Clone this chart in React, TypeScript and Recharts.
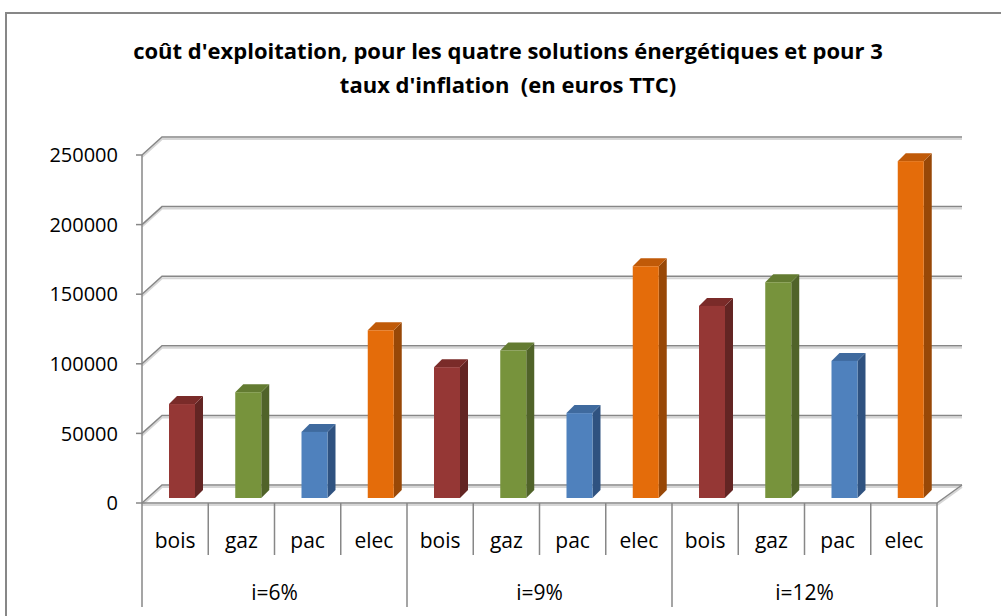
import React from 'react';
import { BarChart, Bar, XAxis, YAxis, CartesianGrid } from 'recharts';

const energies = ['bois', 'gaz', 'pac', 'elec'];
const inflationRates = ['i=6%', 'i=9%', 'i=12%'];
const costsI6 = [67500, 76000, 47500, 120500];
const costsI9 = [94000, 106000, 61000, 166500];
const costsI12 = [138000, 155000, 98500, 242000];
const yTicks = [0, 50000, 100000, 150000, 200000, 250000];
const titleLines = [
  "coût d'exploitation, pour les quatre solutions énergétiques et pour 3",
  "taux d'inflation  (en euros TTC)",
];

const palette: Record<string, { front: string; side: string; top: string }> = {
  bois: { front: '#953735', side: '#632523', top: '#7a2b29' },
  gaz: { front: '#77933C', side: '#506329', top: '#637b31' },
  pac: { front: '#4F81BD', side: '#2F5280', top: '#3f6a9e' },
  elec: { front: '#E46C0A', side: '#984807', top: '#c05a08' },
};

const costsByRate = [costsI6, costsI9, costsI12];
const data = inflationRates.flatMap((rate, g) =>
  energies.map((energy, i) => ({
    key: `${energy} ${rate}`,
    energy,
    rate,
    value: costsByRate[g][i],
  }))
);

const FONT = "'Open Sans', 'Liberation Sans', sans-serif";
const GRID = '#878787';
const SHADOW = '#d6d6d6';
const DEPTH_X = 20;
const DEPTH_X_RIGHT = 25;
const DEPTH_Y = 18;

const GridLine = (p: any) => {
  const { x1, x2, y1 } = p;
  const by = y1 - DEPTH_Y;
  const bx1 = x1 + DEPTH_X;
  const bx2 = x2 + DEPTH_X_RIGHT;
  const floorY = (p.y ?? 0) + (p.height ?? 0);
  const isFloor = Math.abs(y1 - floorY) < 1;
  const back = `${x1},${y1} ${bx1},${by} ${bx2},${by}`;
  const backShadow = `${x1},${y1 + 2} ${bx1},${by + 2} ${bx2},${by + 2}`;
  return (
    <g key={p.key}>
      <polyline points={backShadow} fill="none" stroke={SHADOW} strokeWidth={2} />
      <polyline points={back} fill="none" stroke={GRID} strokeWidth={1.5} />
      {isFloor && (
        <g>
          <polyline points={`${x1},${y1 + 2} ${x2},${y1 + 2} ${bx2},${by + 2}`} fill="none" stroke={SHADOW} strokeWidth={2} />
          <polyline points={`${x1},${y1} ${x2},${y1} ${bx2},${by}`} fill="none" stroke={GRID} strokeWidth={1.5} />
        </g>
      )}
    </g>
  );
};

const Bar3D = (props: any) => {
  const { x, y, width, height, payload } = props;
  if (height == null || width == null) return null;
  const c = palette[payload.energy];
  const dx = 7;
  const dy = -5;
  const d = 8;
  const fx = x + dx;
  const fy = y + dy;
  const w = width;
  const h = height;
  return (
    <g>
      <polygon
        points={`${fx + w},${fy} ${fx + w + d},${fy - d} ${fx + w + d},${fy + h - d} ${fx + w},${fy + h}`}
        fill={c.side}
      />
      <polygon
        points={`${fx},${fy} ${fx + d},${fy - d} ${fx + w + d},${fy - d} ${fx + w},${fy}`}
        fill={c.top}
      />
      <rect x={fx} y={fy} width={w} height={h} fill={c.front} />
    </g>
  );
};

const YTick = (props: any) => {
  const { x, y, payload } = props;
  return (
    <text x={x} y={y} dy="0.36em" textAnchor="end" fontFamily={FONT} fontSize={20} fill="#000">
      {payload.value}
    </text>
  );
};

const XTick = (props: any) => {
  const { x, y, index, payload, visibleTicksCount, width } = props;
  const count = visibleTicksCount || data.length;
  const band = width ? width / count : 66.25;
  const left = x - band / 2;
  const right = x + band / 2;
  const groupStart = index % energies.length === 0;
  const item = data[index];
  return (
    <g>
      <line x1={left} y1={y} x2={left} y2={y + (groupStart ? 104 : 52)} stroke={GRID} strokeWidth={1.5} />
      {index === count - 1 && (
        <line x1={right} y1={y} x2={right} y2={y + 104} stroke={GRID} strokeWidth={1.5} />
      )}
      <text x={x} y={y + 37} dy="0.36em" textAnchor="middle" fontFamily={FONT} fontSize={21} fill="#000">
        {item ? item.energy : payload.value}
      </text>
      {index % energies.length === 1 && item && (
        <text x={right} y={y + 89} dy="0.36em" textAnchor="middle" fontFamily={FONT} fontSize={21} fill="#000">
          {item.rate}
        </text>
      )}
    </g>
  );
};

export default function App() {
  return (
    <div style={{ position: 'absolute', left: 0, top: 0, width: 1001, height: 616, overflow: 'hidden', background: '#fff' }}>
      <div
        style={{
          position: 'absolute',
          left: 5,
          top: 12,
          width: 1100,
          height: 700,
          border: '2px solid #878787',
          boxSizing: 'border-box',
        }}
      />
      <svg width={1001} height={120} style={{ position: 'absolute', left: 0, top: 0 }}>
        {titleLines.map((t, i) => (
          <text key={i} x={508} y={51 + i * 34} dy="0.36em" textAnchor="middle" fontFamily={FONT} fontWeight="bold" fontSize={22} fill="#000" style={{ whiteSpace: 'pre' }}>
            {t}
          </text>
        ))}
      </svg>
      <div style={{ position: 'absolute', left: 0, top: 0 }}>
        <BarChart
          width={1001}
          height={616}
          data={data}
          margin={{ top: 155, right: 64, bottom: 0, left: 0 }}
          barSize={26}
        >
          <CartesianGrid vertical={false} horizontal={GridLine} />
          <XAxis
            dataKey="key"
            interval={0}
            height={113}
            axisLine={false}
            tickLine={false}
            tickSize={0}
            tickMargin={0}
            tick={<XTick />}
          />
          <YAxis
            domain={[0, 250000]}
            ticks={yTicks}
            width={142}
            interval={0}
            axisLine={{ stroke: GRID, strokeWidth: 1.5 }}
            tickLine={{ stroke: GRID, strokeWidth: 1.5 }}
            tickSize={6}
            tickMargin={18}
            tick={<YTick />}
          />
          <Bar dataKey="value" shape={Bar3D} isAnimationActive={false} />
        </BarChart>
      </div>
    </div>
  );
}
